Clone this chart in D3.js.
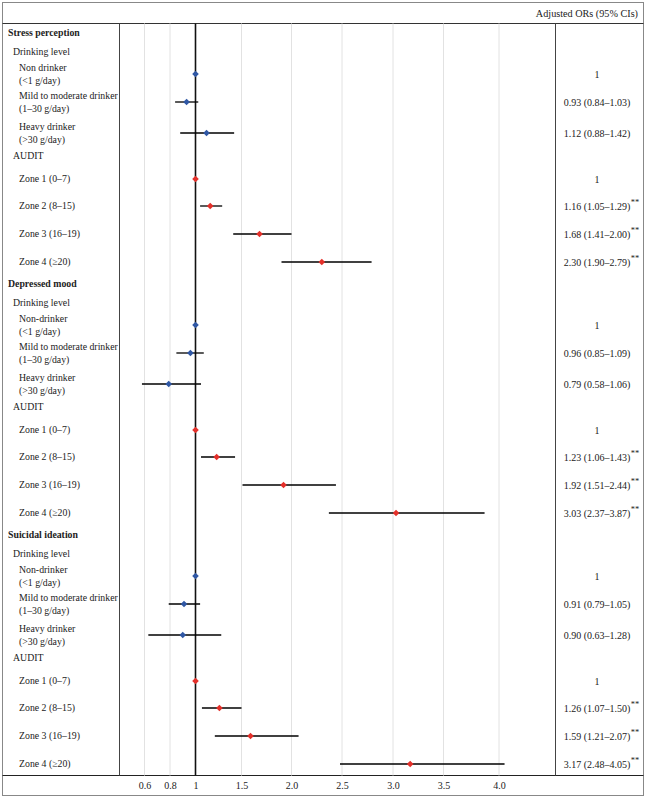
<!DOCTYPE html>
<html><head><meta charset="utf-8">
<script src="https://cdn.jsdelivr.net/npm/d3@7"></script>
<style>body{margin:0;background:#fff} text{font-family:"Liberation Serif","DejaVu Serif",serif;fill:#222}</style>
</head><body><svg id="c" width="646" height="798"></svg>
<script>
// ---- data ----
const sections = ["Stress perception", "Depressed mood", "Suicidal ideation"];
const groupLabels = ["Drinking level", "AUDIT"];
const nonDrinkerLabels = ["Non drinker", "Non-drinker", "Non-drinker"];
const drinkNames = ["Mild to moderate drinker", "Heavy drinker"];
const drinkRanges = ["(<1 g/day)", "(1–30 g/day)", "(>30 g/day)"];
const zoneLabels = ["Zone 1 (0–7)", "Zone 2 (8–15)", "Zone 3 (16–19)", "Zone 4 (≥20)"];

const orStress = [1, 0.93, 1.12, 1, 1.16, 1.68, 2.30];
const loStress = [1, 0.84, 0.88, 1, 1.05, 1.41, 1.90];
const hiStress = [1, 1.03, 1.42, 1, 1.29, 2.00, 2.79];
const orDepress = [1, 0.96, 0.79, 1, 1.23, 1.92, 3.03];
const loDepress = [1, 0.85, 0.58, 1, 1.06, 1.51, 2.37];
const hiDepress = [1, 1.09, 1.06, 1, 1.43, 2.44, 3.87];
const orSuicide = [1, 0.91, 0.90, 1, 1.26, 1.59, 3.17];
const loSuicide = [1, 0.79, 0.63, 1, 1.07, 1.21, 2.48];
const hiSuicide = [1, 1.05, 1.28, 1, 1.50, 2.07, 4.05];
const sigMarks = ["", "", "", "", "**", "**", "**"];

const tickValues = [0.6, 0.8, 1, 1.5, 2, 2.5, 3, 3.5, 4];
const tickLabels = ["0.6", "0.8", "1", "1.5", "2.0", "2.5", "3.0", "3.5", "4.0"];
const headerLabel = "Adjusted ORs (95% CIs)";

// ---- layout ----
const svg = d3.select("#c");
const box = {l: 2.5, r: 643.5, t: 2.5, b: 795.5};
const headerY = 23.5, axisY = 775.5;
const divL = 119.5, divR = 555.5;
const tickPx = [144.5, 170, 195.5, 241.5, 291.5, 342, 393, 443.5, 499];
const x = d3.scaleLinear().domain(tickValues).range(tickPx);

const rowOffsets = [0, 19, 41, 69, 100, 123, 146, 173, 201, 229];
const sectionStep = 251, firstY = 33;
const y = (s, i) => firstY + s * sectionStep + rowOffsets[i];

const orAll = [orStress, orDepress, orSuicide];
const loAll = [loStress, loDepress, loSuicide];
const hiAll = [hiStress, hiDepress, hiSuicide];

// frame
svg.append("rect").attr("x", box.l).attr("y", box.t).attr("width", box.r - box.l).attr("height", box.b - box.t)
  .attr("fill", "none").attr("stroke", "#888").attr("stroke-width", 1);
svg.append("line").attr("x1", box.l).attr("x2", box.r).attr("y1", headerY).attr("y2", headerY).attr("stroke", "#333");
svg.append("line").attr("x1", box.l).attr("x2", box.r).attr("y1", axisY).attr("y2", axisY).attr("stroke", "#222").attr("stroke-width", 1.2);
[divL, divR].forEach(v => svg.append("line").attr("x1", v).attr("x2", v).attr("y1", headerY).attr("y2", axisY).attr("stroke", "#444"));

svg.append("text").attr("x", 638).attr("y", 17).attr("text-anchor", "end").attr("font-size", 10.2).text(headerLabel);

// grid
svg.append("g").selectAll("line").data(tickValues.filter(d => d !== 1)).join("line")
  .attr("x1", d => x(d)).attr("x2", d => x(d)).attr("y1", headerY).attr("y2", axisY)
  .attr("stroke", "#e2e2e2").attr("stroke-width", 1);
svg.append("line").attr("x1", x(1)).attr("x2", x(1)).attr("y1", headerY).attr("y2", axisY)
  .attr("stroke", "#111").attr("stroke-width", 1.6);

// axis
const axis = d3.axisBottom(x).tickValues(tickValues).tickSize(0).tickPadding(6)
  .tickFormat((d, i) => tickLabels[i]);
const ag = svg.append("g").attr("transform", `translate(0,${axisY})`).call(axis);
ag.select(".domain").remove();
ag.selectAll("text").attr("font-size", 10).attr("font-family", '"Liberation Serif",serif').attr("fill", "#222");

// rows
const fs = 9.8;
sections.forEach((sec, s) => {
  svg.append("text").attr("x", 8).attr("y", y(s, 0)).attr("dy", "0.35em").attr("font-size", 9.8)
    .attr("font-weight", "bold").text(sec);
  svg.append("text").attr("x", 13).attr("y", y(s, 1)).attr("dy", "0.35em").attr("font-size", fs).text(groupLabels[0]);
  svg.append("text").attr("x", 13).attr("y", y(s, 5)).attr("dy", "0.35em").attr("font-size", fs).text(groupLabels[1]);
  const names = [nonDrinkerLabels[s], ...drinkNames];
  names.forEach((nm, k) => {
    const yy = y(s, 2 + k);
    svg.append("text").attr("x", 19).attr("y", yy - 6.5).attr("dy", "0.35em").attr("font-size", fs).text(nm);
    svg.append("text").attr("x", 19).attr("y", yy + 6.5).attr("dy", "0.35em").attr("font-size", fs).text(drinkRanges[k]);
  });
  zoneLabels.forEach((z, k) => {
    svg.append("text").attr("x", 19).attr("y", y(s, 6 + k)).attr("dy", "0.35em").attr("font-size", fs).text(z);
  });

  const rowIdx = [2, 3, 4, 6, 7, 8, 9];
  orAll[s].forEach((v, j) => {
    const yy = y(s, rowIdx[j]);
    const lo = loAll[s][j], hi = hiAll[s][j];
    if (lo !== hi) {
      svg.append("line").attr("x1", x(lo)).attr("x2", x(hi)).attr("y1", yy).attr("y2", yy)
        .attr("stroke", "#000").attr("stroke-width", 1.3);
    }
    svg.append("path").attr("d", d3.symbol(d3.symbolSquare, 22)())
      .attr("transform", `translate(${x(v)},${yy}) rotate(45)`)
      .attr("fill", j < 3 ? "#2f57a4" : "#e4302a");
    const label = (lo === hi) ? "1" : `${v.toFixed(2)} (${lo.toFixed(2)}–${hi.toFixed(2)})`;
    const t = svg.append("text").attr("x", 597).attr("y", yy).attr("dy", "0.35em").attr("text-anchor", "middle")
      .attr("font-size", 10).text(label);
    if (sigMarks[j]) {
      const w = t.node().getComputedTextLength();
      svg.append("text").attr("x", 597 + w / 2 + 0.5).attr("y", yy - 3.5).attr("dy", "0.35em")
        .attr("font-size", 8.5).text(sigMarks[j]);
    }
  });
});
</script></body></html>
